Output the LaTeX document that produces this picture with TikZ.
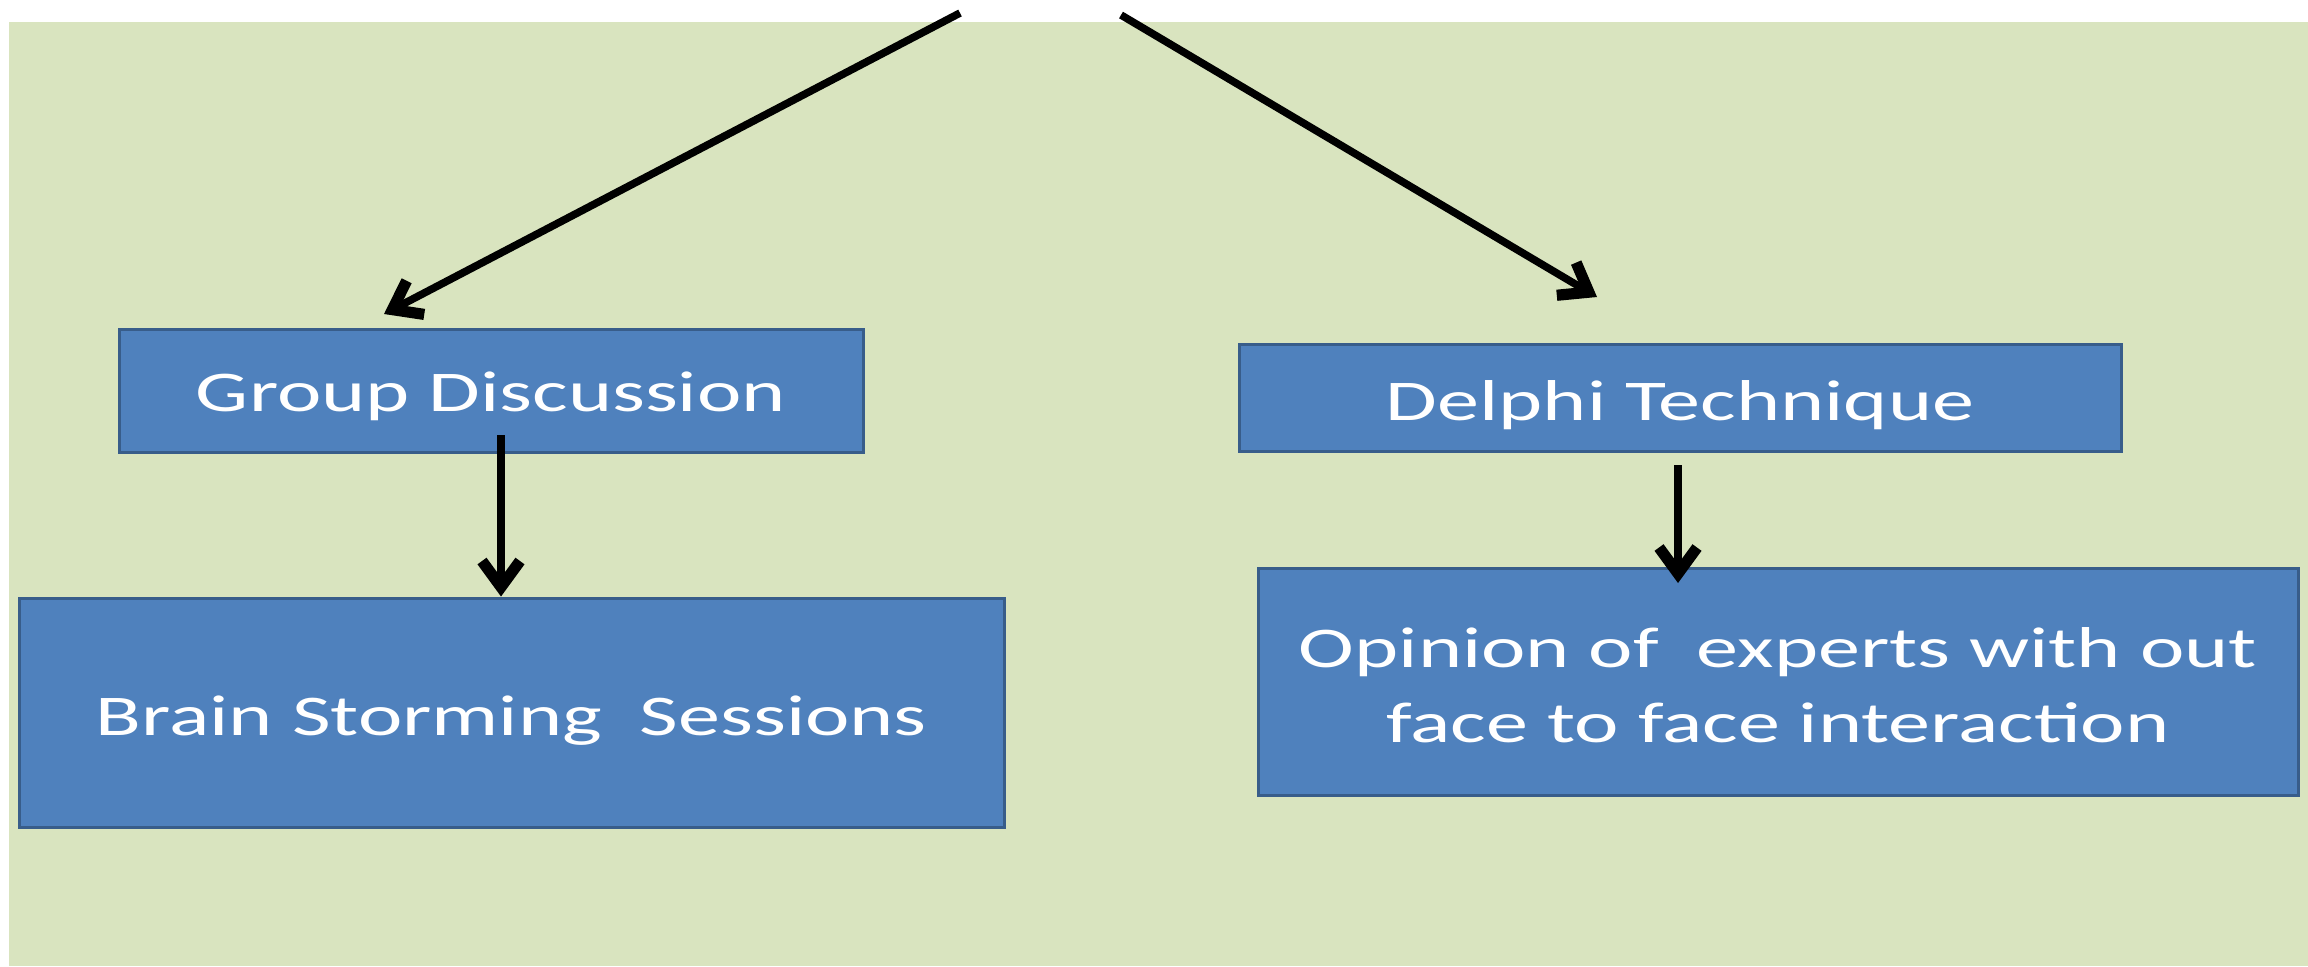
\documentclass[tikz,border=0pt]{standalone}
\usepackage{fontspec}
\setmainfont{Carlito}[FakeStretch=1.46]
\usetikzlibrary{arrows.meta}
\definecolor{bg}{HTML}{D9E4BF}
\definecolor{boxfill}{HTML}{4F81BD}
\definecolor{boxline}{HTML}{385D8A}
\newcommand{\lowr}[2]{\raisebox{-#1}[\height][\depth]{#2}}
\begin{document}
\begin{tikzpicture}[x=0.25pt,y=-0.25pt,
  box/.style={draw=boxline, line width=0.75pt, fill=boxfill, text=white, inner sep=0pt, align=center,
    font=\fontsize{14.4pt}{18.75pt}\selectfont},
  arr/.style={line width=1.9pt, -{Straight Barb[length=6.5pt,width=9.5pt,line width=2.8pt]}}]
\useasboundingbox (0,0) rectangle (2308,966);
\fill[white] (0,0) rectangle (2308,966);
\fill[bg] (9,22) rectangle (2308,966);
\node[box, minimum width=186pt, minimum height=30.75pt] (gd) at (491,390.5) {\lowr{1.5pt}{Group Discussion}};
\node[box, minimum width=220.5pt, minimum height=26.75pt] (dt) at (1680,397.5) {\lowr{2pt}{Delphi Technique}};
\node[box, minimum width=246.25pt, minimum height=57.25pt] (bss) at (511.5,712.5) {\lowr{2pt}{Brain Storming~ Sessions}};
\node[box, minimum width=260pt, minimum height=56.75pt] (op) at (1778,681.5) {\lowr{1pt}{Opinion of~ experts with out}\\\lowr{1pt}{face to face interaction}};
\coordinate (s1) at (960,13);
\coordinate (t1) at (384,314);
\coordinate (s2) at (1121,15);
\coordinate (t2) at (1597,297);
\coordinate (v1) at (501,435);
\coordinate (v2) at (1678,465);
\coordinate (w2) at (1678,583);
\draw[arr] (s1) -- (t1);
\draw[arr] (s2) -- (t2);
\draw[arr] (v1) -- (v1 |- bss.north);
\draw[arr] (v2) -- (w2);
\end{tikzpicture}
\end{document}
